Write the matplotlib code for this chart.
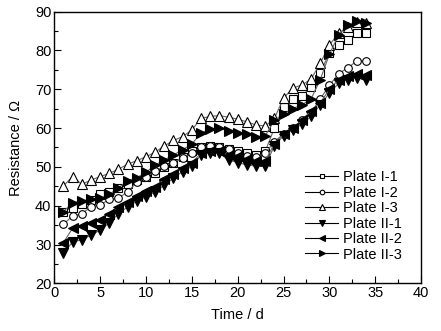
import matplotlib
matplotlib.use("Agg")
from matplotlib import pyplot as plt
from matplotlib.ticker import MultipleLocator

plt.rcParams['font.family'] = ['Liberation Sans', 'DejaVu Sans']
plt.rcParams['font.size'] = 10.5

# measurement days
days = list(range(1, 35))

# resistance readings per plate (ohm)
plate_i_1 = [38.5, 39.5, 40.5, 41.5, 43.0, 43.5, 44.5, 45.5, 46.5, 47.5,
             48.5, 50.0, 51.0, 52.5, 54.0, 55.0, 55.5, 55.0, 54.5, 54.0,
             53.5, 53.0, 54.0, 60.0, 65.5, 67.4, 68.3, 70.5, 74.3, 79.3,
             81.4, 82.7, 84.4, 84.4]
plate_i_2 = [35.3, 37.3, 37.9, 39.7, 40.2, 41.6, 41.9, 43.6, 46.0, 47.3,
             48.9, 50.2, 51.1, 52.2, 53.5, 55.1, 55.4, 55.1, 54.5, 53.5,
             52.7, 52.6, 53.5, 56.5, 58.5, 60.0, 62.0, 64.0, 67.5, 71.0,
             74.0, 75.5, 77.3, 77.3]
plate_i_3 = [45.1, 47.5, 45.5, 46.6, 47.5, 48.3, 49.4, 50.7, 51.6, 52.6,
             53.8, 55.4, 56.8, 57.8, 59.5, 62.5, 63.0, 63.2, 62.8, 62.3,
             61.6, 60.8, 60.5, 62.5, 67.7, 70.3, 71.1, 72.6, 76.7, 81.4,
             84.4, 86.1, 87.2, 87.0]
plate_ii_1 = [27.7, 30.7, 31.2, 32.4, 33.7, 35.6, 37.9, 39.7, 41.2, 42.3,
              43.6, 45.3, 47.1, 48.8, 50.1, 53.1, 53.7, 53.5, 51.8, 51.1,
              50.5, 50.2, 50.1, 55.5, 58.0, 59.5, 61.0, 63.0, 66.0, 69.0,
              71.5, 72.5, 73.0, 72.5]
plate_ii_2 = [30.5, 34.2, 34.8, 35.6, 36.3, 37.9, 39.7, 41.0, 42.6, 43.9,
              44.9, 46.8, 48.2, 49.6, 51.1, 53.5, 54.2, 54.0, 53.0, 52.8,
              52.0, 51.5, 51.5, 56.0, 58.5, 60.0, 62.0, 64.5, 66.5, 70.0,
              72.5, 73.3, 74.0, 73.7]
plate_ii_3 = [38.5, 40.8, 41.2, 41.6, 41.9, 42.9, 44.6, 46.4, 47.2, 48.6,
              50.5, 51.8, 53.1, 54.4, 55.9, 58.7, 59.7, 59.9, 59.3, 58.8,
              58.5, 57.8, 58.0, 62.0, 63.5, 65.0, 66.0, 67.5, 72.5, 79.0,
              84.0, 86.5, 87.5, 87.0]

labels = ["Plate I-1", "Plate I-2", "Plate I-3", "Plate II-1", "Plate II-2", "Plate II-3"]
series = [plate_i_1, plate_i_2, plate_i_3, plate_ii_1, plate_ii_2, plate_ii_3]
markers = ['s', 'o', '^', 'v', '<', '>']
filled = [False, False, False, True, True, True]

fig = plt.figure(figsize=(4.41, 3.31), dpi=100)
ax = fig.add_axes([0.123, 0.144, 0.832, 0.821])

for y, lab, m, f in zip(series, labels, markers, filled):
    ax.plot(days, y, color='#666666', lw=0.8, marker=m,
            markersize=5.5 if m in 'so' else 7,
            markerfacecolor='black' if f else 'white', markeredgecolor='black',
            markeredgewidth=0.8, label=lab)

ax.set_xlim(0, 40)
ax.set_ylim(20, 90)
ax.xaxis.set_major_locator(MultipleLocator(5))
ax.xaxis.set_minor_locator(MultipleLocator(2.5))
ax.yaxis.set_major_locator(MultipleLocator(10))
ax.yaxis.set_minor_locator(MultipleLocator(5))
ax.tick_params(which='both', direction='in', top=False, right=False, width=0.8, pad=2)
ax.tick_params(which='major', length=5)
ax.tick_params(which='minor', length=3)
for s in ax.spines.values():
    s.set_linewidth(1.0)

ax.set_xlabel("Time / d", labelpad=6)
ax.set_ylabel("Resistance / Ω", labelpad=9)

leg = ax.legend(loc='center left', bbox_to_anchor=(0.684, 0.248), frameon=False,
                borderpad=0, borderaxespad=0, markerscale=0.6,
                handlelength=2.26, labelspacing=0.1, handletextpad=0.3)
for line in leg.get_lines():
    line.set_color('black')

fig.savefig("out.png", dpi=100)
